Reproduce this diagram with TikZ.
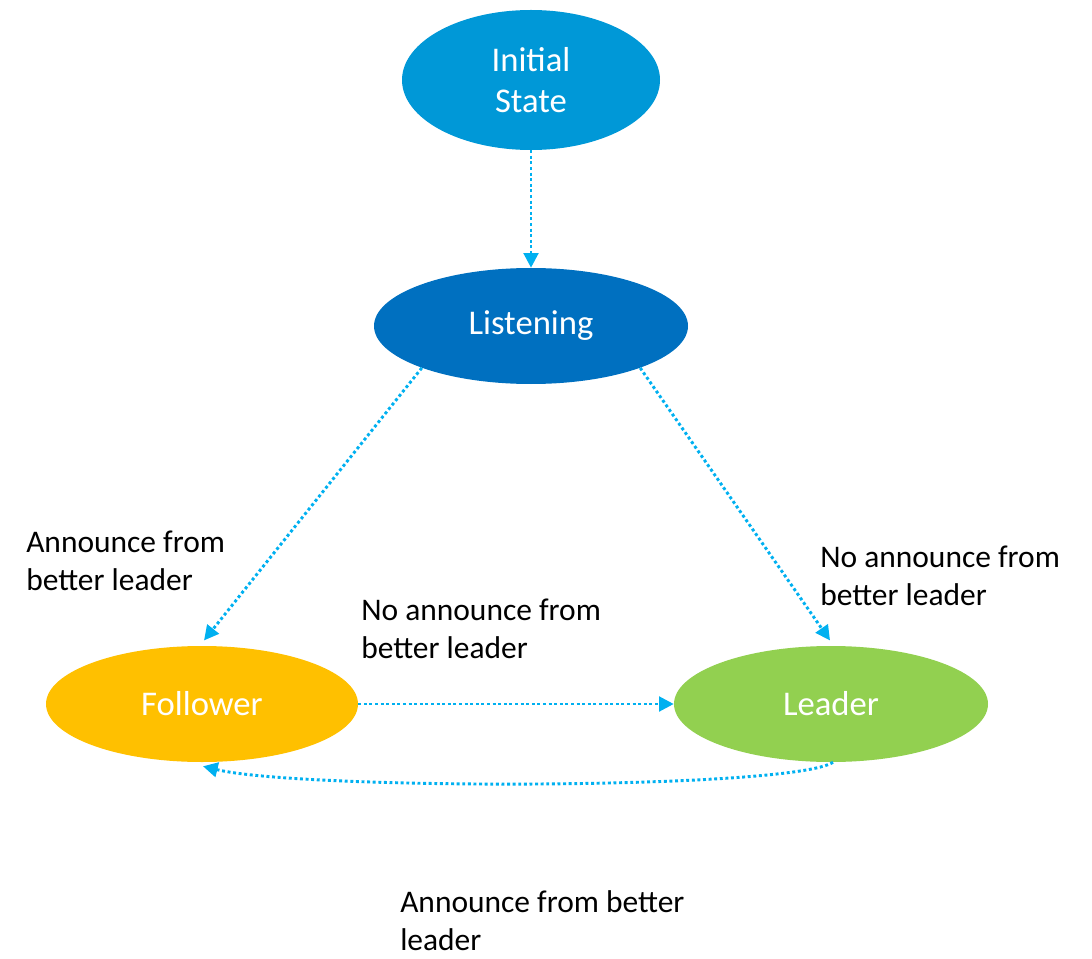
\documentclass[tikz,border=0pt]{standalone}
\usepackage{fontspec}
\setmainfont{Carlito}
\usetikzlibrary{shapes.geometric,arrows.meta}
\definecolor{initblue}{RGB}{0,152,215}
\definecolor{listenblue}{RGB}{0,112,192}
\definecolor{followgold}{RGB}{255,192,0}
\definecolor{leadgreen}{RGB}{146,208,80}
\definecolor{arrowblue}{RGB}{0,176,240}
\begin{document}
\begin{tikzpicture}[x=0.75pt,y=-0.75pt,
    state/.style={ellipse,inner sep=0pt,text=white,align=center,
        font=\fontsize{26}{31}\selectfont},
    trans/.style={arrowblue,line width=2.2pt,dotted,
        -{Triangle[length=11pt,width=11pt]}},
    note/.style={anchor=north west,align=left,inner sep=0pt,
        font=\fontsize{23.6}{28.5}\selectfont}]
    \useasboundingbox (0,0) rectangle (1092,959);
    \coordinate (I) at (531,80);
    \coordinate (L) at (531,326);
    \coordinate (F) at (202,704);
    \coordinate (D) at (831,704);
    \node[state,fill=initblue,minimum width=193.5pt,minimum height=105pt] (init) at (I) {Initial\\State};
    \node[state,fill=listenblue,minimum width=235.5pt,minimum height=87pt] (listen) at (L) {Listening};
    \node[state,fill=followgold,minimum width=234pt,minimum height=87pt] (follow) at (F) {Follower};
    \node[state,fill=leadgreen,minimum width=235.5pt,minimum height=87pt] (lead) at (D) {Leader};
    \node[note] (n1) at (26,531) {Announce from\\better leader};
    \node[note] (n2) at (361,599) {No announce from\\better leader};
    \node[note] (n3) at (820,546) {No announce from\\better leader};
    \node[note] (n4) at (400,890) {Announce from better\\leader};
    \draw[trans] (init) -- (listen);
    \draw[trans] (listen.-159) -- ([yshift=4pt]follow.88);
    \draw[trans] (listen.-21) -- ([yshift=4pt]lead.91);
    \draw[trans] (follow) -- (lead);
    \draw[trans] (lead.-88) .. controls (790,790) and (300,790) .. ([yshift=-3pt]follow.-89);
\end{tikzpicture}
\end{document}
